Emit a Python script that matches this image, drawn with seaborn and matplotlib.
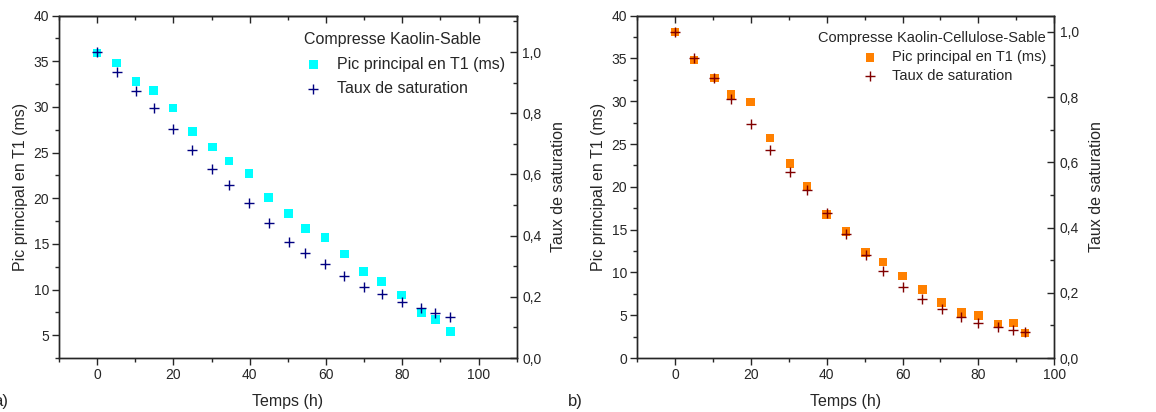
import matplotlib
matplotlib.use("Agg")
import matplotlib.pyplot as plt
from matplotlib.ticker import MultipleLocator, FuncFormatter
import pandas as pd
import seaborn as sns

# panel a) Compresse Kaolin-Sable
temps_a = [0, 5.1, 10.2, 14.8, 19.9, 25.0, 30.2, 34.6, 39.8, 45.0, 50.2, 54.6, 59.7, 64.8, 69.9,
           74.6, 79.8, 85.0, 88.7, 92.6]
pic_a = [35.9, 34.8, 32.8, 31.8, 29.9, 27.3, 25.6, 24.1, 22.7, 20.1, 18.3, 16.7, 15.7, 13.9, 12.0,
         10.9, 9.4, 7.5, 6.7, 5.4]
taux_a = [1.0, 0.936, 0.872, 0.818, 0.748, 0.680, 0.618, 0.567, 0.508, 0.442, 0.379, 0.344, 0.307,
          0.268, 0.232, 0.208, 0.183, 0.162, 0.148, 0.134]

# panel b) Compresse Kaolin-Cellulose-Sable
temps_b = [0, 5.0, 10.4, 14.8, 20.0, 25.1, 30.3, 34.8, 40.0, 45.1, 50.3, 54.8, 60.0, 65.2, 70.3,
           75.5, 80.0, 85.2, 89.2, 92.3]
pic_b = [38.1, 34.8, 32.7, 30.8, 29.9, 25.7, 22.7, 20.1, 16.8, 14.8, 12.3, 11.2, 9.6, 8.0, 6.5,
         5.3, 5.0, 4.0, 4.1, 2.9]
taux_b = [1.0, 0.921, 0.859, 0.793, 0.717, 0.638, 0.570, 0.514, 0.446, 0.379, 0.315, 0.266, 0.219,
          0.182, 0.150, 0.126, 0.107, 0.095, 0.086, 0.081]

sns.set_style("white")
plt.rcParams['font.family'] = ['Liberation Sans', 'DejaVu Sans']
plt.rcParams['axes.linewidth'] = 1.0


def comma(v, pos):
    return '{0:.1f}'.format(v).replace('.', ',')


def panel(ax, df, title, c_sq, c_cr, xlim, ylim, ylim2, align, leg_anchor, lspace, lsize):
    sns.scatterplot(x='temps', y='pic', data=df, ax=ax, marker='s', s=38, color=c_sq,
                    edgecolor='none', label='Pic principal en T1 (ms)', legend=False, zorder=3)
    ax2 = ax.twinx()
    sns.scatterplot(x='temps', y='taux', data=df, ax=ax2, marker='+', s=45, color=c_cr,
                    linewidth=1.0, label='Taux de saturation', legend=False, zorder=4)
    ax.set_xlim(*xlim)
    ax.set_ylim(*ylim)
    ax2.set_ylim(*ylim2)
    ax.xaxis.set_major_locator(MultipleLocator(20))
    ax.xaxis.set_minor_locator(MultipleLocator(10))
    ax.yaxis.set_major_locator(MultipleLocator(5))
    ax.yaxis.set_minor_locator(MultipleLocator(2.5))
    ax2.yaxis.set_major_locator(MultipleLocator(0.2))
    ax2.yaxis.set_minor_locator(MultipleLocator(0.1))
    ax2.yaxis.set_major_formatter(FuncFormatter(comma))
    ax.tick_params(axis='both', which='major', direction='out', length=5, width=1, labelsize=10,
                   bottom=True, left=True, top=False, right=False, pad=2)
    ax.tick_params(axis='both', which='minor', direction='out', length=3, width=1,
                   bottom=True, left=True, top=False, right=False)
    ax2.tick_params(axis='y', which='major', direction='in', length=5, width=1, labelsize=10, pad=4)
    ax2.tick_params(axis='y', which='minor', direction='in', length=3, width=1)
    top = ax.secondary_xaxis('top')
    top.xaxis.set_major_locator(MultipleLocator(20))
    top.xaxis.set_minor_locator(MultipleLocator(10))
    top.tick_params(axis='x', which='major', direction='in', length=5, width=1, labeltop=False)
    top.tick_params(axis='x', which='minor', direction='in', length=3, width=1)
    top.set_xticklabels([])
    ax.set_xlabel('Temps (h)', fontsize=11.5, labelpad=9)
    ax.set_ylabel('Pic principal en T1 (ms)', fontsize=11.5, labelpad=4)
    ax2.set_ylabel('Taux de saturation', fontsize=11.5, labelpad=7)
    h1, l1 = ax.get_legend_handles_labels()
    h2, l2 = ax2.get_legend_handles_labels()
    ax2.legend(h1 + h2, l1 + l2, title=title, frameon=False, loc='upper right',
               bbox_to_anchor=leg_anchor, fontsize=lsize, title_fontsize=lsize,
               handletextpad=0.9, handlelength=1.2, labelspacing=lspace, borderpad=0.2,
               alignment=align)
    return ax2


fig = plt.figure(figsize=(11.56, 4.12), dpi=100)
ax_a = fig.add_axes([0.051, 0.131, 0.396, 0.831])
ax_b = fig.add_axes([0.551, 0.131, 0.361, 0.831])

df_a = pd.DataFrame({'temps': temps_a, 'pic': pic_a, 'taux': taux_a})
df_b = pd.DataFrame({'temps': temps_b, 'pic': pic_b, 'taux': taux_b})

panel(ax_a, df_a, 'Compresse Kaolin-Sable', '#00FFFF', '#000080', (-10, 110), (2.5, 40),
      (0, 1.119), 'left', (1.0, 0.985), 0.6, 11.5)
panel(ax_b, df_b, 'Compresse Kaolin-Cellulose-Sable', '#FF8000', '#800000', (-10, 100), (0, 40),
      (0, 1.05), 'right', (1.005, 0.985), 0.35, 10.5)

fig.text(-0.006, 0.014, 'a)', fontsize=12)
fig.text(0.491, 0.014, 'b)', fontsize=12)

fig.savefig('out.png', dpi=100)
